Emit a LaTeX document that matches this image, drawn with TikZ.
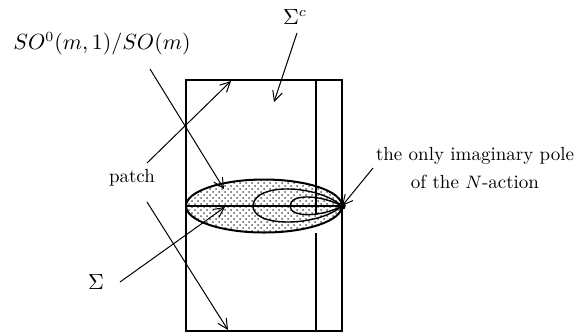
\documentclass[tikz,border=0pt]{standalone}
\usepackage{amsmath,amssymb}
\usetikzlibrary{arrows.meta,patterns}
\tikzset{
  frame/.style={draw=black,line width=1pt},
  loopline/.style={draw=black,line width=0.7pt},
  pointer/.style={draw=black,line width=0.5pt,-{Straight Barb[length=5pt,width=5pt]}},
  lab/.style={inner sep=0pt,font=\fontsize{9.5}{14}\selectfont,align=center},
  mlab/.style={inner sep=0pt,font=\fontsize{10.6}{12}\selectfont},
  patchfill/.style={pattern=crosshatch dots,pattern color=black!65},
}

\begin{document}
\begin{tikzpicture}[x=0.5pt,y=-0.5pt]
\useasboundingbox (0,0) rectangle (577,333);
\coordinate (nw) at (186,80);
\coordinate (se) at (342,331);
\coordinate (pole) at (342,206);
\coordinate (axisl) at (186,206);
\coordinate (mid) at (264,206);
\coordinate (inner-top) at (316,80);
\coordinate (inner-in) at (316,215);
\coordinate (inner-out) at (316,233);
\coordinate (inner-bot) at (316,331);
% dotted patch
\fill[white] (mid) ellipse [x radius=78, y radius=26.5];
\fill[patchfill] (mid) ellipse [x radius=78, y radius=26.5];
\draw[frame] (mid) ellipse [x radius=78, y radius=26.5];
% strip
\draw[frame] (nw) rectangle (se);
\draw[frame] (inner-top) -- (inner-in);
\draw[frame] (inner-out) -- (inner-bot);
\draw[frame] (axisl) -- (pole);
% loops at the pole
\draw[loopline] (pole) .. controls (318,185) and (256,182) .. (253,205)
  .. controls (251,228) and (318,227) .. (pole);
\draw[loopline] (pole) .. controls (322,195) and (290,193) .. (290,206)
  .. controls (290,218) and (322,217) .. (pole);
\fill (pole) circle [radius=3.8];
% labels
\node[mlab] (so) at (102,44) {$SO^0(m,1)/SO(m)$};
\node[mlab] (sigc) at (295,17) {$\Sigma^c$};
\node[lab] (patch) at (132,178) {patch};
\node[mlab] (sig) at (96,282) {$\Sigma$};
\node[lab] (polelab) at (475,168) {the only imaginary pole\\of the $N$-action};
% pointers
\coordinate (so-from) at (150,69);
\coordinate (so-to) at (224,189);
\coordinate (sigc-from) at (297,33);
\coordinate (sigc-to) at (274,102);
\coordinate (patch-from1) at (147,163);
\coordinate (patch-to1) at (231,81);
\coordinate (patch-from2) at (147,202);
\coordinate (patch-to2) at (228,330);
\coordinate (sig-from) at (120,282);
\coordinate (sig-to) at (225,207);
\coordinate (pole-from) at (373,168);
\draw[pointer] (so-from) -- (so-to);
\draw[pointer] (sigc-from) -- (sigc-to);
\draw[pointer] (patch-from1) -- (patch-to1);
\draw[pointer] (patch-from2) -- (patch-to2);
\draw[pointer] (sig-from) -- (sig-to);
\draw[pointer] (pole-from) -- (pole);
\end{tikzpicture}
\end{document}
